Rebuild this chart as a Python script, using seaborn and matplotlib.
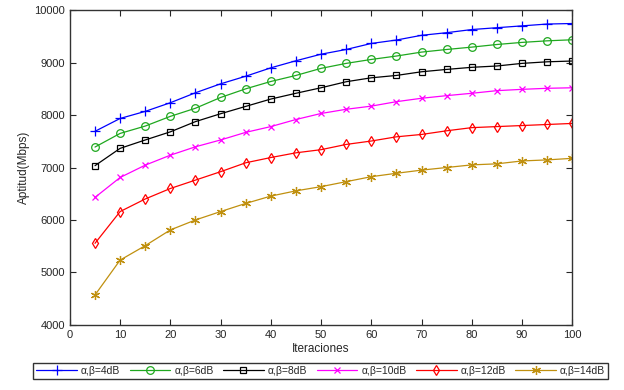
import numpy as np
import pandas as pd
import matplotlib
matplotlib.use("Agg")
import matplotlib.pyplot as plt
import seaborn as sns

sns.set_style("ticks")
plt.rcParams['font.family'] = ['Liberation Sans', 'DejaVu Sans']

iteraciones = list(range(5, 105, 5))

labels = ["α,β=4dB", "α,β=6dB", "α,β=8dB", "α,β=10dB", "α,β=12dB", "α,β=14dB"]

snr_4 = [7690, 7935, 8070, 8235, 8425, 8595, 8740, 8900, 9035, 9160,
         9250, 9365, 9430, 9520, 9570, 9630, 9665, 9700, 9735, 9745]
snr_6 = [7390, 7650, 7790, 7975, 8130, 8335, 8500, 8640, 8755, 8890,
         8985, 9060, 9125, 9200, 9250, 9295, 9345, 9385, 9415, 9435]
snr_8 = [7035, 7365, 7525, 7680, 7875, 8025, 8165, 8305, 8415, 8520,
         8635, 8710, 8755, 8825, 8870, 8910, 8935, 8985, 9015, 9030]
snr_10 = [6430, 6810, 7045, 7235, 7395, 7525, 7670, 7780, 7915, 8030,
          8110, 8170, 8255, 8320, 8370, 8415, 8465, 8490, 8510, 8520]
snr_12 = [5555, 6160, 6400, 6600, 6760, 6920, 7090, 7190, 7280, 7340,
          7440, 7505, 7585, 7630, 7700, 7760, 7780, 7800, 7820, 7840]
snr_14 = [4570, 5235, 5510, 5810, 6000, 6160, 6315, 6455, 6555, 6635,
          6730, 6825, 6890, 6950, 7000, 7050, 7070, 7125, 7145, 7175]

series = [snr_4, snr_6, snr_8, snr_10, snr_12, snr_14]
colors = ["#0000FF", "#1FA81F", "#000000", "#FF00FF", "#FF0000", "#C0900F"]
markers = ["+", "o", "s", "x", "d", (6, 2, 0)]
sizes = [7, 5.5, 4.5, 4.5, 5.5, 6.5]

fig, ax = plt.subplots(figsize=(6.24, 3.9), dpi=100)
fig.subplots_adjust(left=0.112, right=0.917, bottom=0.167, top=0.974)

for vals, lab, col, mk, ms in zip(series, labels, colors, markers, sizes):
    df = pd.DataFrame({"Iteraciones": iteraciones, "Aptitud": vals})
    sns.lineplot(data=df, x="Iteraciones", y="Aptitud", ax=ax, color=col,
                 marker=mk, markersize=ms, markerfacecolor="none",
                 markeredgecolor=col, markeredgewidth=0.9, linewidth=0.9,
                 label=lab)

ax.set_xlim(0, 100)
ax.set_ylim(4000, 10000)
ax.set_xticks(range(0, 101, 10))
ax.set_yticks(range(4000, 10001, 1000))
ax.tick_params(direction="in", top=True, right=True, labelsize=8, length=4)
for sp in ax.spines.values():
    sp.set_visible(True)
    sp.set_linewidth(1.0)
    sp.set_color("#333333")
ax.set_xlabel("Iteraciones", fontsize=8.5, labelpad=2)
ax.set_ylabel("Aptitud(Mbps)", fontsize=8.5, labelpad=3)

ax.get_legend().remove()
handles, lbls = ax.get_legend_handles_labels()
leg = fig.legend(handles, lbls, loc="center", bbox_to_anchor=(0.514, 0.049),
                 ncol=6, fontsize=7.5, frameon=True, fancybox=False,
                 edgecolor="black", handlelength=3.9, columnspacing=0.9,
                 handletextpad=0.4, borderpad=0.3)
leg.get_frame().set_linewidth(1.0)

fig.savefig("out.png", dpi=100)
